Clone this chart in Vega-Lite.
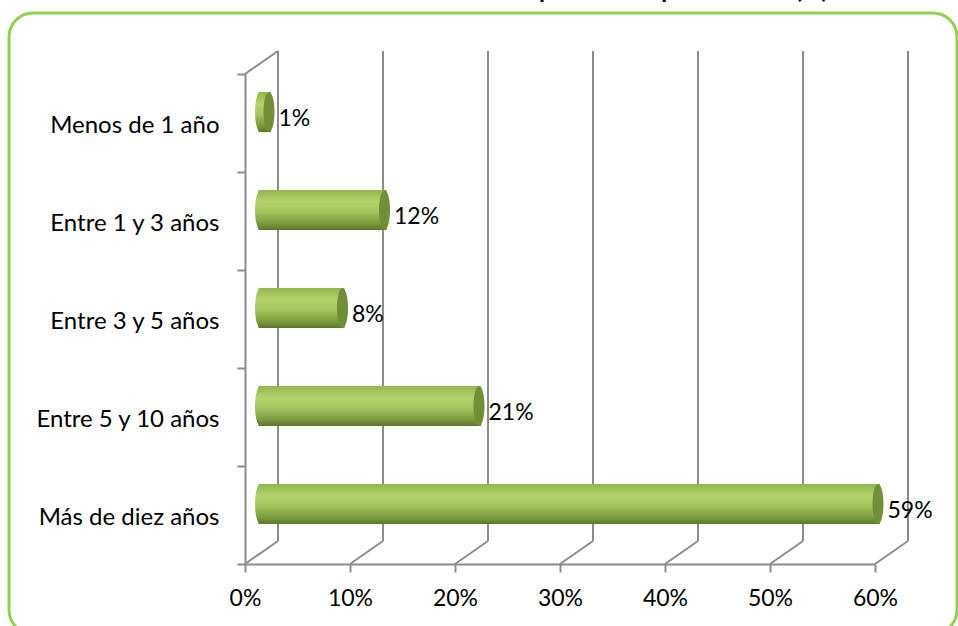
{
  "$schema": "https://vega.github.io/schema/vega-lite/v6.json",
  "width": 948,
  "height": 621,
  "autosize": {"type": "none"},
  "padding": {"left": 9, "top": 13, "right": 1, "bottom": -8},
  "background": "white",
  "title": {
    "text": "Tiempo en la empresa actual (%)",
    "anchor": "end",
    "frame": "group",
    "dx": -129,
    "offset": -21,
    "baseline": "alphabetic",
    "font": "Lato",
    "fontSize": 24,
    "fontWeight": "bold",
    "color": "#000000"
  },
  "config": {
    "view": {"stroke": "#92d050", "strokeWidth": 3, "cornerRadius": 24, "fill": "white"},
    "font": "Lato",
    "axis": {
      "domainColor": "#8c8c8c",
      "domainWidth": 2,
      "tickColor": "#8c8c8c",
      "tickWidth": 2,
      "labelColor": "#000000",
      "labelFont": "Lato",
      "labelFontSize": 24,
      "grid": false,
      "title": null
    }
  },
  "datasets": {
    "rows": [
      {"cat": "Menos de 1 año", "pct": 0.01},
      {"cat": "Entre 1 y 3 años", "pct": 0.12},
      {"cat": "Entre 3 y 5 años", "pct": 0.08},
      {"cat": "Entre 5 y 10 años", "pct": 0.21},
      {"cat": "Más de diez años", "pct": 0.59}
    ],
    "ticks": [
      {"v": 0}, {"v": 0.1}, {"v": 0.2}, {"v": 0.3}, {"v": 0.4}, {"v": 0.5}, {"v": 0.6}
    ]
  },
  "resolve": {"scale": {"y": "independent"}},
  "layer": [
    {
      "data": {"name": "ticks"},
      "mark": {"type": "rule", "color": "#8c8c8c", "strokeWidth": 2, "xOffset": 33, "yOffset": -23, "y2Offset": -23},
      "encoding": {
        "x": {"field": "v", "type": "quantitative", "title": null, "scale": {"domain": [0, 0.6], "range": [236, 866], "nice": false, "zero": false}},
        "y": {"datum": 0, "type": "quantitative", "scale": {"domain": [0, 1], "range": [551, 61], "nice": false}, "axis": null},
        "y2": {"datum": 1}
      }
    },
    {
      "data": {"name": "ticks"},
      "mark": {"type": "rule", "color": "#8c8c8c", "strokeWidth": 2, "x2Offset": 33, "y2Offset": -23},
      "encoding": {
        "x": {"field": "v", "type": "quantitative", "title": null},
        "x2": {"field": "v"},
        "y": {"datum": 0, "type": "quantitative", "scale": {"domain": [0, 1], "range": [551, 61], "nice": false}, "axis": null},
        "y2": {"datum": 0}
      }
    },
    {
      "data": {"name": "ticks"},
      "transform": [{"filter": "datum.v == 0"}],
      "mark": {"type": "rule", "color": "#8c8c8c", "strokeWidth": 2, "x2Offset": 33, "y2Offset": -23},
      "encoding": {
        "x": {"field": "v", "type": "quantitative", "title": null},
        "x2": {"field": "v"},
        "y": {"datum": 1, "type": "quantitative", "scale": {"domain": [0, 1], "range": [551, 61], "nice": false}, "axis": null},
        "y2": {"datum": 1}
      }
    },
    {
      "data": {"name": "rows"},
      "mark": {
        "type": "bar",
        "xOffset": 15.5,
        "x2Offset": 13.5,
        "yOffset": -11,
        "height": {"band": 0.41},
        "fill": {
          "gradient": "linear", "x1": 0, "y1": 0, "x2": 0, "y2": 1,
          "stops": [
            {"offset": 0, "color": "#94b54e"},
            {"offset": 0.3, "color": "#b3d36c"},
            {"offset": 0.55, "color": "#a3c45e"},
            {"offset": 0.85, "color": "#7a983b"},
            {"offset": 1, "color": "#5c772a"}
          ]
        }
      },
      "encoding": {
        "y": {
          "field": "cat", "type": "nominal", "sort": null,
          "scale": {"domain": ["Menos de 1 año", "Entre 1 y 3 años", "Entre 3 y 5 años", "Entre 5 y 10 años", "Más de diez años"], "range": [61, 551], "paddingInner": 0, "paddingOuter": 0},
          "axis": {"offset": -236, "tickBand": "extent", "tickSize": 8, "labelPadding": 18, "labelOffset": 2.5, "title": null, "labelLimit": 400}
        },
        "x": {
          "field": "pct", "type": "quantitative", "title": null,
          "axis": {"offset": -70, "values": [0, 0.1, 0.2, 0.3, 0.4, 0.5, 0.6], "format": ".0%", "tickSize": 8, "labelPadding": 15, "labelFlush": false, "labelFontSize": 23, "title": null}
        },
        "x2": {"datum": 0}
      }
    },
    {
      "data": {"name": "rows"},
      "mark": {
        "type": "point",
        "shape": "M0,-1 A0.275,1 0 1,1 0,1 A0.275,1 0 1,1 0,-1 Z",
        "size": 1600,
        "filled": true,
        "opacity": 1,
        "strokeWidth": 0,
        "xOffset": 15.5,
        "yOffset": -11,
        "fill": {
          "gradient": "linear", "x1": 0, "y1": 0, "x2": 0, "y2": 1,
          "stops": [
            {"offset": 0, "color": "#94b54e"},
            {"offset": 0.3, "color": "#b3d36c"},
            {"offset": 0.55, "color": "#a3c45e"},
            {"offset": 0.85, "color": "#7a983b"},
            {"offset": 1, "color": "#5c772a"}
          ]
        }
      },
      "encoding": {
        "x": {"datum": 0, "type": "quantitative", "title": null},
        "y": {"field": "cat", "type": "nominal", "sort": null, "axis": null,
          "scale": {"domain": ["Menos de 1 año", "Entre 1 y 3 años", "Entre 3 y 5 años", "Entre 5 y 10 años", "Más de diez años"], "range": [61, 551], "paddingInner": 0, "paddingOuter": 0}}
      }
    },
    {
      "data": {"name": "rows"},
      "mark": {
        "type": "point",
        "shape": "M0,-1 A0.275,1 0 1,1 0,1 A0.275,1 0 1,1 0,-1 Z",
        "size": 1600,
        "filled": true,
        "opacity": 1,
        "strokeWidth": 0,
        "xOffset": 13.5,
        "yOffset": -11,
        "fill": "#718e38"
      },
      "encoding": {
        "x": {"field": "pct", "type": "quantitative", "title": null},
        "y": {"field": "cat", "type": "nominal", "sort": null, "axis": null,
          "scale": {"domain": ["Menos de 1 año", "Entre 1 y 3 años", "Entre 3 y 5 años", "Entre 5 y 10 años", "Más de diez años"], "range": [61, 551], "paddingInner": 0, "paddingOuter": 0}}
      }
    },
    {
      "data": {"name": "rows"},
      "mark": {"type": "text", "align": "left", "baseline": "middle", "xOffset": 23, "yOffset": -4, "font": "Lato", "fontSize": 23, "color": "#000000"},
      "encoding": {
        "x": {"field": "pct", "type": "quantitative", "title": null},
        "y": {"field": "cat", "type": "nominal", "sort": null, "axis": null,
          "scale": {"domain": ["Menos de 1 año", "Entre 1 y 3 años", "Entre 3 y 5 años", "Entre 5 y 10 años", "Más de diez años"], "range": [61, 551], "paddingInner": 0, "paddingOuter": 0}},
        "text": {"field": "pct", "type": "quantitative", "format": ".0%"}
      }
    }
  ]
}
